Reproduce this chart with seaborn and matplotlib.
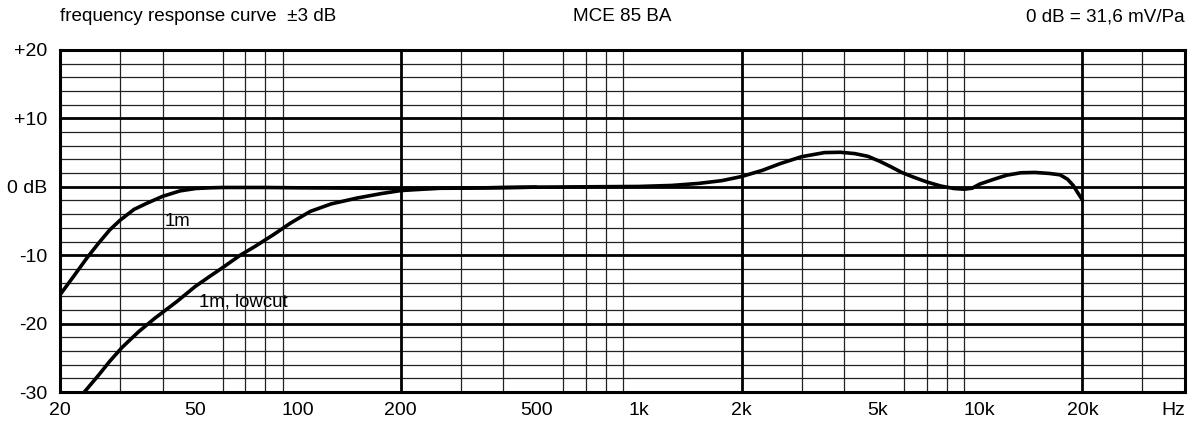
import matplotlib
matplotlib.use('Agg')
import matplotlib.pyplot as plt
from matplotlib.ticker import FixedLocator, NullFormatter
import seaborn as sns

# frequency response MCE 85 BA
freq_1m = [20, 22, 24, 26, 28, 30, 33, 36, 40, 45, 50, 55, 60, 80, 100, 150, 200, 300,
           500, 700, 1000, 1250, 1500, 1750, 2000, 2300, 2600, 3000, 3500, 3900, 4300,
           4700, 5100, 5500, 5900, 6400, 7000, 7700, 8400, 9000, 9500, 10000, 11000,
           12000, 13200, 14500, 16000, 17200, 18100, 18800, 19400, 20000]
db_1m = [-15.8, -13.0, -10.4, -8.2, -6.3, -4.9, -3.3, -2.4, -1.4, -0.6, -0.25, -0.15, -0.1,
         -0.1, -0.15, -0.2, -0.25, -0.2, -0.05, 0.0, 0.05, 0.2, 0.5, 0.9, 1.5, 2.4, 3.4,
         4.4, 5.0, 5.05, 4.85, 4.45, 3.7, 2.9, 2.1, 1.4, 0.7, 0.1, -0.25, -0.35, -0.2, 0.4,
         1.1, 1.7, 2.05, 2.1, 1.95, 1.75, 1.1, 0.2, -0.9, -1.9]

freq_lc = [23.4, 26, 28, 30.4, 34, 38, 44, 49.8, 55, 59.7, 67.6, 74.8, 84.6, 95, 108.5, 125,
           148.7, 175, 200, 261, 350, 500]
db_lc = [-30.2, -27.5, -25.5, -23.5, -21.2, -19.2, -16.8, -14.6, -13.1, -11.9, -10.0, -8.7,
         -7.0, -5.3, -3.6, -2.5, -1.65, -1.0, -0.55, -0.2, -0.15, -0.05]

tick_freqs = [20, 50, 100, 200, 500, 1000, 2000, 5000, 10000, 20000]
tick_flabels = ['20', '50', '100', '200', '500', '1k', '2k', '5k', '10k', '20k']
tick_db = [-30, -20, -10, 0, 10, 20]
tick_dblabels = ['-30', '-20', '-10', '0 dB', '+10', '+20']

sns.set_style('white')
plt.rcParams['font.family'] = ['Liberation Sans', 'DejaVu Sans']
plt.rcParams['text.color'] = 'black'

fig = plt.figure(figsize=(11.92, 4.25), dpi=100)
ax = fig.add_axes([0.0503, 0.0776, 0.9438, 0.8048])
ax.set_xscale('log')

sns.lineplot(x=freq_1m, y=db_1m, ax=ax, color='black', lw=2.6, sort=False, zorder=5)
sns.lineplot(x=freq_lc, y=db_lc, ax=ax, color='black', lw=2.6, sort=False, zorder=5)

ax.set_xlim(20, 40000)
ax.set_ylim(-30, 20)

grid_freqs = [m * 10 ** e for e in range(1, 5) for m in range(1, 10) if 20 <= m * 10 ** e <= 40000]
ax.xaxis.set_major_locator(FixedLocator(tick_freqs))
ax.set_xticklabels(tick_flabels)
ax.xaxis.set_minor_locator(FixedLocator(grid_freqs))
ax.xaxis.set_minor_formatter(NullFormatter())
ax.yaxis.set_major_locator(FixedLocator(tick_db))
ax.set_yticklabels(tick_dblabels)
ax.yaxis.set_minor_locator(FixedLocator(list(range(-30, 21, 2))))

ax.set_axisbelow(True)
ax.grid(which='minor', axis='x', color='#222222', lw=0.9)
ax.grid(which='minor', axis='y', color='#222222', lw=0.9)
ax.grid(which='major', axis='y', color='black', lw=2.0)
for f in [200, 2000, 20000]:
    ax.axvline(f, color='black', lw=2.0, zorder=1)

for s in ax.spines.values():
    s.set_color('black')
    s.set_linewidth(2.2)

ax.tick_params(which='both', length=0, labelsize=14, colors='black')
ax.tick_params(axis='x', pad=7)
ax.tick_params(axis='y', pad=9)

ax.text(1.0, -0.053, 'Hz', transform=ax.transAxes, ha='right', va='center', fontsize=14)
ax.text(0.0, 1.097, 'frequency response curve  \u00b13 dB', transform=ax.transAxes,
        ha='left', va='center', fontsize=13.6)
ax.text(0.5, 1.097, 'MCE 85 BA', transform=ax.transAxes, ha='center', va='center', fontsize=13.6)
ax.text(1.0, 1.097, '0 dB = 31,6 mV/Pa', transform=ax.transAxes, ha='right', va='center',
        fontsize=13.6)

ax.text(44.4, -5.1, '1m', ha='center', va='center', fontsize=13.4)
ax.text(68.9, -16.8, '1m, lowcut', ha='center', va='center', fontsize=13.4)

fig.savefig('out.png', dpi=100)
